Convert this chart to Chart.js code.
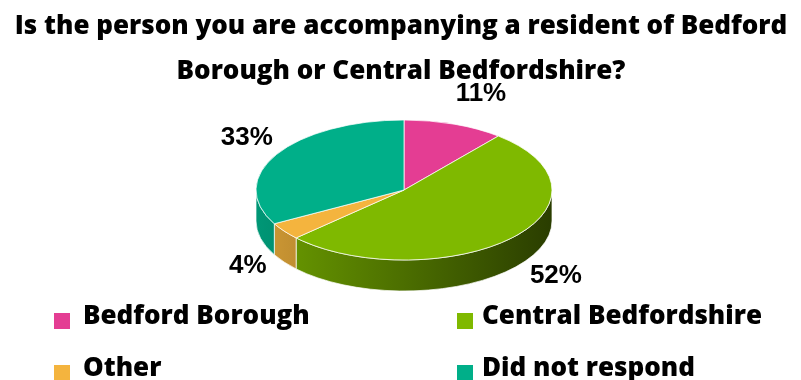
<!DOCTYPE html>
<html>
<head>
<meta charset="utf-8">
<script src="https://cdn.jsdelivr.net/npm/chart.js@4/dist/chart.umd.min.js"></script>
<style>
  html, body { margin: 0; padding: 0; background: #fff; }
  #wrap { position: relative; width: 801px; height: 380px; overflow: hidden; background: #fff; }
  #pie { position: absolute; left: 0; top: 0; }
  .title { position: absolute; left: 0; width: 802px; text-align: center; white-space: nowrap;
           font: 800 26px "Open Sans", sans-serif; line-height: 26px; color: #000; }
  .item { position: absolute; white-space: nowrap; font: 800 26px "Open Sans", sans-serif; line-height: 26px; color: #000; }
  .swatch { position: absolute; width: 16px; height: 16px; }
</style>
</head>
<body>
<div id="wrap">
  <canvas id="pie" width="801" height="380"></canvas>
  <div class="title" style="top:11px">Is the person you are accompanying a resident of Bedford</div>
  <div class="title" style="top:56px">Borough or Central Bedfordshire?</div>
  <div id="legend"></div>
</div>
<script>
const categories = ["Bedford Borough", "Central Bedfordshire", "Other", "Did not respond"];
const shares = [11, 52, 4, 33];
const sliceColors = ["#E43D93", "#7FB900", "#F4B43E", "#00AF89"];

// pie look
const tilt = 0.473;     // vertical squash of the top face
const depth = 31;       // thickness of the side wall

function shade(hex, f) {
  const n = parseInt(hex.slice(1), 16);
  const r = Math.round(((n >> 16) & 255) * f);
  const g = Math.round(((n >> 8) & 255) * f);
  const b = Math.round((n & 255) * f);
  return `rgb(${r},${g},${b})`;
}

// legend, two columns
const legendEl = document.getElementById("legend");
categories.forEach((name, i) => {
  const col = i % 2, row = Math.floor(i / 2);
  const sw = document.createElement("div");
  sw.className = "swatch";
  sw.style.left = (54 + col * 403) + "px";
  sw.style.top = (313 + row * 52) + "px";
  sw.style.background = sliceColors[i];
  legendEl.appendChild(sw);
  const t = document.createElement("div");
  t.className = "item";
  t.textContent = name;
  t.style.left = (83 + col * 399) + "px";
  t.style.top = (301 + row * 52) + "px";
  legendEl.appendChild(t);
});

const pie3d = {
  id: "pie3d",
  beforeDatasetsDraw(chart) {
    const ctx = chart.ctx;
    const arcs = chart.getDatasetMeta(0).data;
    const cx = arcs[0].x, cy = arcs[0].y, r = arcs[0].outerRadius;
    const ry = r * tilt;

    // side walls for the part of each slice facing the viewer
    arcs.forEach((arc, i) => {
      const a0 = Math.max(arc.startAngle, 0);
      const a1 = Math.min(arc.endAngle, Math.PI);
      if (a1 <= a0) return;
      const grad = ctx.createLinearGradient(cx - r, 0, cx + r, 0);
      grad.addColorStop(0, shade(sliceColors[i], 0.86));
      grad.addColorStop(0.45, shade(sliceColors[i], 0.62));
      grad.addColorStop(1, shade(sliceColors[i], 0.33));
      ctx.beginPath();
      ctx.ellipse(cx, cy, r, ry, 0, a0, a1);
      ctx.lineTo(cx + r * Math.cos(a1), cy + ry * Math.sin(a1) + depth);
      ctx.ellipse(cx, cy + depth, r, ry, 0, a1, a0, true);
      ctx.closePath();
      ctx.fillStyle = grad;
      ctx.fill();
      ctx.strokeStyle = "rgba(255,255,255,0.7)";
      ctx.lineWidth = 1;
      ctx.stroke();
    });

    ctx.save();
    ctx.translate(cx, cy);
    ctx.scale(1, tilt);
    ctx.translate(-cx, -cy);
  },
  afterDatasetsDraw(chart) {
    const ctx = chart.ctx;
    ctx.restore();
    const arcs = chart.getDatasetMeta(0).data;
    const cx = arcs[0].x, cy = arcs[0].y, r = arcs[0].outerRadius;
    ctx.save();
    ctx.font = "bold 26px 'Liberation Sans', Arial, sans-serif";
    ctx.fillStyle = "#000";
    ctx.textBaseline = "middle";
    arcs.forEach((arc, i) => {
      const mid = (arc.startAngle + arc.endAngle) / 2;
      const c = Math.cos(mid), s = Math.sin(mid);
      // labels sit just outside the rim, pushed out a bit more on the front
      const x = cx + r * (1.03 + 0.2 * Math.max(s, 0)) * c;
      const y = cy + r * tilt * 1.46 * s + (s > 0 ? 16 : 0);
      ctx.textAlign = c >= 0 ? "left" : "right";
      ctx.fillText(shares[i] + "%", x, y);
    });
    ctx.restore();
  }
};

new Chart(document.getElementById("pie"), {
  type: "pie",
  data: {
    labels: categories,
    datasets: [{
      data: shares,
      backgroundColor: sliceColors,
      borderColor: "#ffffff",
      borderWidth: 1
    }]
  },
  options: {
    responsive: false,
    animation: false,
    radius: 148,
    layout: { padding: { left: 7 } },
    events: [],
    plugins: { legend: { display: false }, tooltip: { enabled: false } }
  },
  plugins: [pie3d]
});
</script>
</body>
</html>
